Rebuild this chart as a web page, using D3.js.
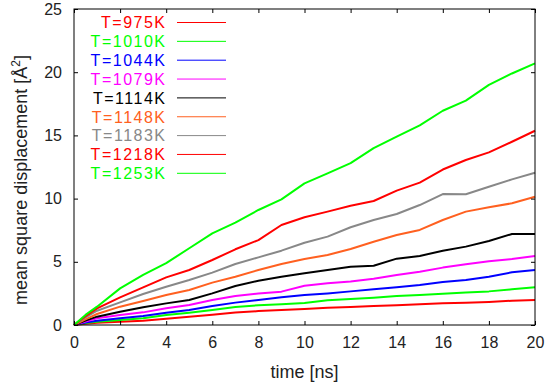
<html>
<head>
<script src="https://d3js.org/d3.v7.min.js"></script>
<style>
  body { margin: 0; background: #fff; }
  text { font-family: Arial, "Liberation Sans", sans-serif; }
</style>
</head>
<body>
<div id="chart"></div>
<script>
// time axis (ns)
var times = [0, 0.5, 1, 2, 3, 4, 5, 6, 7, 8, 9, 10, 11, 12, 13, 14, 15, 16, 17, 18, 19, 20];

// mean square displacement per temperature (A^2)
var msd975  = [0, 0.10, 0.18, 0.26, 0.34, 0.50, 0.65, 0.82, 0.98, 1.10, 1.19, 1.27, 1.37, 1.42, 1.50, 1.56, 1.64, 1.72, 1.76, 1.82, 1.92, 1.98];
var msd1010 = [0, 0.15, 0.26, 0.40, 0.53, 0.79, 0.97, 1.19, 1.42, 1.56, 1.64, 1.74, 1.95, 2.06, 2.16, 2.29, 2.37, 2.48, 2.58, 2.66, 2.82, 2.98];
var msd1044 = [0, 0.20, 0.34, 0.53, 0.71, 0.97, 1.19, 1.50, 1.77, 1.98, 2.19, 2.37, 2.50, 2.66, 2.82, 2.98, 3.16, 3.40, 3.56, 3.82, 4.17, 4.35];
var msd1079 = [0, 0.28, 0.53, 0.79, 1.00, 1.32, 1.58, 1.98, 2.29, 2.50, 2.64, 3.11, 3.30, 3.45, 3.66, 3.96, 4.22, 4.54, 4.80, 5.04, 5.22, 5.46];
var msd1114 = [0, 0.35, 0.66, 1.05, 1.40, 1.71, 1.98, 2.50, 3.09, 3.50, 3.82, 4.09, 4.35, 4.61, 4.69, 5.25, 5.46, 5.88, 6.20, 6.65, 7.20, 7.20];
var msd1148 = [0, 0.45, 0.87, 1.45, 1.90, 2.37, 2.77, 3.35, 3.82, 4.35, 4.83, 5.22, 5.54, 6.01, 6.59, 7.12, 7.52, 8.31, 8.97, 9.31, 9.63, 10.15];
var msd1183 = [0, 0.60, 1.13, 1.79, 2.45, 3.03, 3.56, 4.14, 4.83, 5.35, 5.88, 6.51, 6.99, 7.73, 8.31, 8.78, 9.49, 10.36, 10.34, 10.94, 11.52, 12.05];
var msd1218 = [0, 0.70, 1.32, 2.19, 2.98, 3.77, 4.35, 5.14, 5.99, 6.72, 7.91, 8.52, 8.97, 9.44, 9.81, 10.63, 11.26, 12.30, 13.05, 13.66, 14.50, 15.37];
var msd1253 = [0, 0.80, 1.45, 2.90, 3.96, 4.90, 6.07, 7.25, 8.10, 9.10, 9.94, 11.20, 12.00, 12.80, 14.00, 14.90, 15.80, 16.95, 17.75, 19.00, 19.90, 20.70];

var labels = ["T=975K", "T=1010K", "T=1044K", "T=1079K", "T=1114K", "T=1148K", "T=1183K", "T=1218K", "T=1253K"];
var colors = ["#ff0000", "#00ff00", "#0000ff", "#ff00ff", "#000000", "#ff6020", "#888888", "#ff0000", "#00ff00"];
var allSeries = [msd975, msd1010, msd1044, msd1079, msd1114, msd1148, msd1183, msd1218, msd1253];

var xTicks = [0, 2, 4, 6, 8, 10, 12, 14, 16, 18, 20];
var yTicks = [0, 5, 10, 15, 20, 25];

var width = 546, height = 389;
var margin = {top: 9, right: 11, bottom: 64, left: 74};
var w = width - margin.left - margin.right;
var h = height - margin.top - margin.bottom;

var svg = d3.select("#chart").append("svg")
  .attr("width", width).attr("height", height);

var g = svg.append("g")
  .attr("transform", "translate(" + margin.left + "," + margin.top + ")");

var x = d3.scaleLinear().domain([0, 20]).range([0, w]);
var y = d3.scaleLinear().domain([0, 25]).range([h, 0]);

// data lines
var line = d3.line()
  .x(function(d, i) { return x(times[i]); })
  .y(function(d) { return y(d); });

allSeries.forEach(function(s, k) {
  g.append("path")
    .attr("d", line(s))
    .attr("fill", "none")
    .attr("stroke", colors[k])
    .attr("stroke-width", 2)
    .attr("stroke-linejoin", "round");
});

// ticks on all four sides, pointing inward
function styleAxis(sel) {
  sel.select(".domain").remove();
  sel.selectAll(".tick line").attr("stroke", "#000");
  sel.selectAll(".tick text").attr("fill", "#222").style("font-size", "16px");
}

g.append("g").attr("transform", "translate(0," + h + ")")
  .call(d3.axisBottom(x).tickValues(xTicks).tickSize(-4).tickPadding(12))
  .call(styleAxis);
g.append("g")
  .call(d3.axisTop(x).tickValues(xTicks).tickSize(-4).tickFormat(""))
  .call(styleAxis);
g.append("g")
  .call(d3.axisLeft(y).tickValues(yTicks).tickSize(-4).tickPadding(12))
  .call(styleAxis);
g.append("g").attr("transform", "translate(" + w + ",0)")
  .call(d3.axisRight(y).tickValues(yTicks).tickSize(-4).tickFormat(""))
  .call(styleAxis);

g.append("rect")
  .attr("x", 0).attr("y", 0).attr("width", w).attr("height", h)
  .attr("fill", "none").attr("stroke", "#000").attr("stroke-width", 1);

// axis titles
svg.append("text")
  .attr("x", margin.left + w / 2).attr("y", 378)
  .attr("text-anchor", "middle")
  .style("font-size", "18px").attr("fill", "#222")
  .text("time [ns]");

var yl = svg.append("text")
  .attr("transform", "translate(27,180) rotate(-90)")
  .attr("text-anchor", "middle")
  .style("font-size", "18px").attr("fill", "#222");
yl.append("tspan").text("mean square displacement [Å");
yl.append("tspan").attr("dy", -7).style("font-size", "12px").text("2");
yl.append("tspan").attr("dy", 7).text("]");

// legend
var legend = svg.append("g");
labels.forEach(function(lab, k) {
  var ly = 22.5 + k * 18.85;
  legend.append("text")
    .attr("x", 166.5).attr("y", ly).attr("dy", "0.36em")
    .attr("text-anchor", "end")
    .style("font-size", "16px")
    .style("letter-spacing", "1.5px")
    .attr("fill", colors[k])
    .text(lab);
  legend.append("line")
    .attr("x1", 177).attr("x2", 226)
    .attr("y1", ly).attr("y2", ly)
    .attr("stroke", colors[k]).attr("stroke-width", 1);
});
</script>
</body>
</html>
